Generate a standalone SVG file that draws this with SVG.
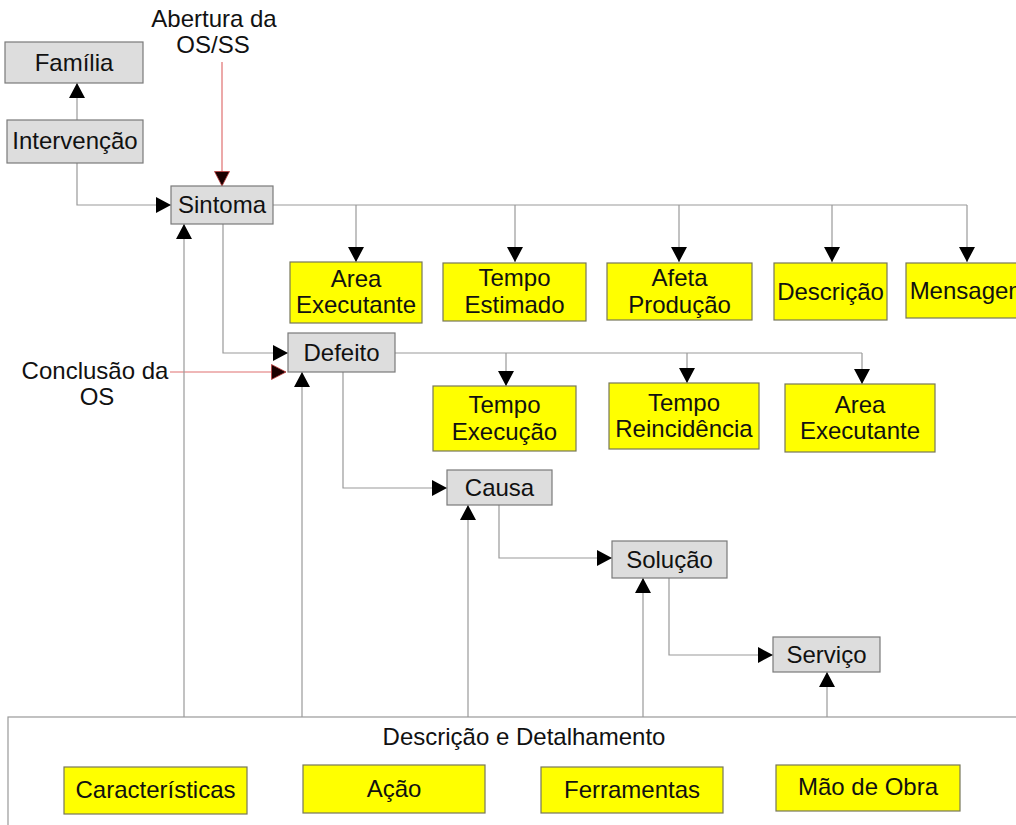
<svg xmlns="http://www.w3.org/2000/svg" width="1016" height="825" viewBox="0 0 1016 825">
  <style>
    text { font-family: "Liberation Sans", Arial, sans-serif; font-size: 24px; fill: #111; text-anchor: middle; }
    .gray { fill: #dddddd; stroke: #7a7a7a; stroke-width: 1.2; }
    .yel { fill: #ffff00; stroke: #77775a; stroke-width: 1.2; }
    .frame { fill: #ffffff; stroke: #999999; stroke-width: 1.2; }
    .wire { fill: none; stroke: #999999; stroke-width: 1.2; }
    .arr { fill: none; stroke: #999999; stroke-width: 1.2; marker-end: url(#head); }
    .red { fill: none; stroke: #e07070; stroke-width: 1.2; marker-end: url(#redhead); }
  </style>
  <defs>
    <marker id="head" markerUnits="userSpaceOnUse" markerWidth="16" markerHeight="16" refX="15" refY="8" orient="auto">
      <path d="M0,0 L15,8 L0,16 Z" fill="#000"/>
    </marker>
    <marker id="redhead" markerUnits="userSpaceOnUse" markerWidth="16" markerHeight="16" refX="15" refY="8" orient="auto">
      <path d="M0.5,0.5 L15,8 L0.5,15.5 Z" fill="#1a0000" stroke="#c04040" stroke-width="0.8"/>
    </marker>
  </defs>

  <!-- detail panel at the bottom -->
  <g id="detalhamento">
    <rect class="frame" x="8" y="717" width="1020" height="120"/>
    <text x="524" y="745">Descrição e Detalhamento</text>
  </g>

  <!-- connectors -->
  <g id="connectors">
    <path class="arr" d="M77,120 V83"/>
    <path class="arr" d="M77,163 V205 H171"/>
    <path class="red" d="M222,62 V186"/>

    <path class="wire" d="M273,205 H967"/>
    <path class="arr" d="M356,205 V262"/>
    <path class="arr" d="M515,205 V262"/>
    <path class="arr" d="M679,205 V262"/>
    <path class="arr" d="M832,205 V262"/>
    <path class="arr" d="M967,205 V262"/>

    <path class="arr" d="M223,224 V353 H288"/>
    <path class="red" d="M170,372 H286"/>

    <path class="wire" d="M395,353 H862"/>
    <path class="arr" d="M506,353 V386"/>
    <path class="arr" d="M687,353 V383"/>
    <path class="arr" d="M862,353 V384"/>

    <path class="arr" d="M343,372 V488 H447"/>
    <path class="arr" d="M499,505 V558 H612"/>
    <path class="arr" d="M669,578 V655 H773"/>

    <path class="arr" d="M184,717 V224"/>
    <path class="arr" d="M302,717 V372"/>
    <path class="arr" d="M468,717 V505"/>
    <path class="arr" d="M643,717 V578"/>
    <path class="arr" d="M827,717 V672"/>
  </g>

  <!-- labels for the incoming events -->
  <g id="abertura">
    <text x="214" y="27">Abertura da</text>
    <text x="213" y="53">OS/SS</text>
  </g>
  <g id="conclusao">
    <text x="95" y="379">Conclusão da</text>
    <text x="97" y="405">OS</text>
  </g>

  <!-- main chain -->
  <g id="familia"><rect class="gray" x="5" y="42" width="138" height="41"/><text x="74" y="71">Família</text></g>
  <g id="intervencao"><rect class="gray" x="7" y="120" width="136" height="43"/><text x="75" y="149">Intervenção</text></g>
  <g id="sintoma"><rect class="gray" x="171" y="186" width="102" height="38"/><text x="222" y="213">Sintoma</text></g>
  <g id="defeito"><rect class="gray" x="288" y="333" width="107" height="39"/><text x="341.5" y="361">Defeito</text></g>
  <g id="causa"><rect class="gray" x="447" y="470" width="105" height="35"/><text x="499.5" y="496">Causa</text></g>
  <g id="solucao"><rect class="gray" x="612" y="541" width="115" height="37"/><text x="669.5" y="568">Solução</text></g>
  <g id="servico"><rect class="gray" x="773" y="637" width="107" height="35"/><text x="826.5" y="663">Serviço</text></g>

  <!-- attributes of Sintoma -->
  <g id="area-executante-1"><rect class="yel" x="290" y="262" width="132" height="61"/><text x="356" y="287">Area</text><text x="356" y="313">Executante</text></g>
  <g id="tempo-estimado"><rect class="yel" x="443" y="263" width="143" height="58"/><text x="514.5" y="286">Tempo</text><text x="514.5" y="313">Estimado</text></g>
  <g id="afeta-producao"><rect class="yel" x="607" y="263" width="145" height="57"/><text x="679.5" y="286">Afeta</text><text x="679.5" y="313">Produção</text></g>
  <g id="descricao"><rect class="yel" x="774" y="263" width="113" height="57"/><text x="830.5" y="300">Descrição</text></g>
  <g id="mensagem"><rect class="yel" x="906" y="263" width="126" height="55"/><text x="969" y="299">Mensagem</text></g>

  <!-- attributes of Defeito -->
  <g id="tempo-execucao"><rect class="yel" x="433" y="386" width="143" height="65"/><text x="504.5" y="413">Tempo</text><text x="504.5" y="440">Execução</text></g>
  <g id="tempo-reincidencia"><rect class="yel" x="609" y="383" width="150" height="66"/><text x="684" y="411">Tempo</text><text x="684" y="437">Reincidência</text></g>
  <g id="area-executante-2"><rect class="yel" x="785" y="384" width="150" height="68"/><text x="860" y="413">Area</text><text x="860" y="439">Executante</text></g>

  <!-- detail items -->
  <g id="caracteristicas"><rect class="yel" x="64" y="767" width="183" height="47"/><text x="155.5" y="798">Características</text></g>
  <g id="acao"><rect class="yel" x="303" y="765" width="182" height="48"/><text x="394" y="797">Ação</text></g>
  <g id="ferramentas"><rect class="yel" x="541" y="767" width="182" height="46"/><text x="632" y="798">Ferramentas</text></g>
  <g id="mao-de-obra"><rect class="yel" x="776" y="765" width="184" height="46"/><text x="868" y="795">Mão de Obra</text></g>
</svg>
